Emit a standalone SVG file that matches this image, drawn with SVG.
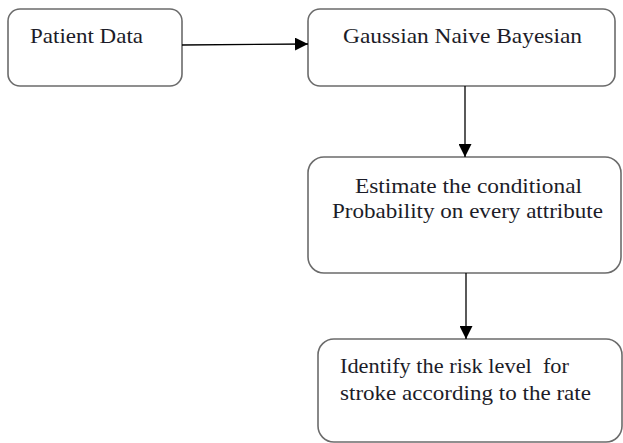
<svg xmlns="http://www.w3.org/2000/svg" width="623" height="443" viewBox="0 0 623 443">
<style>
.box{fill:#fff;stroke:#6b6b6b;stroke-width:1.6}
.t{font-family:"Liberation Serif","Times New Roman",serif;font-size:22px;fill:#1c1c28;white-space:pre}
.c{stroke:#000;stroke-width:1.3;fill:none}
</style>
<defs>
<marker id="ah" viewBox="0 0 10 10" refX="10" refY="5" markerWidth="13" markerHeight="13" markerUnits="userSpaceOnUse" orient="auto">
<path d="M0,0 L10,5 L0,10 z" fill="#000"/>
</marker>
</defs>
<rect width="623" height="443" fill="#fff"/>
<g id="n1">
<rect class="box" x="8" y="9" width="174" height="77" rx="12"/>
<text class="t" x="30" y="43" textLength="113" lengthAdjust="spacingAndGlyphs">Patient Data</text>
</g>
<g id="n2">
<rect class="box" x="308" y="9" width="307" height="77" rx="12"/>
<text class="t" x="343" y="43" textLength="239" lengthAdjust="spacingAndGlyphs">Gaussian Naive Bayesian</text>
</g>
<g id="n3">
<rect class="box" x="308" y="157" width="313" height="116" rx="16"/>
<text class="t" x="355" y="193" textLength="227" lengthAdjust="spacingAndGlyphs">Estimate the conditional</text>
<text class="t" x="332" y="218" textLength="271" lengthAdjust="spacingAndGlyphs">Probability on every attribute</text>
</g>
<g id="n4">
<rect class="box" x="318" y="339" width="304" height="103" rx="16"/>
<text class="t" x="340" y="373" textLength="229" lengthAdjust="spacingAndGlyphs" xml:space="preserve">Identify the risk level  for</text>
<text class="t" x="340" y="400" textLength="251" lengthAdjust="spacingAndGlyphs">stroke according to the rate</text>
</g>
<g id="connectors">
<path class="c" d="M182,45 L308,44" marker-end="url(#ah)"/>
<path class="c" d="M465,86 L465,157" marker-end="url(#ah)"/>
<path class="c" d="M466,273 L466,339" marker-end="url(#ah)"/>
</g>
</svg>
